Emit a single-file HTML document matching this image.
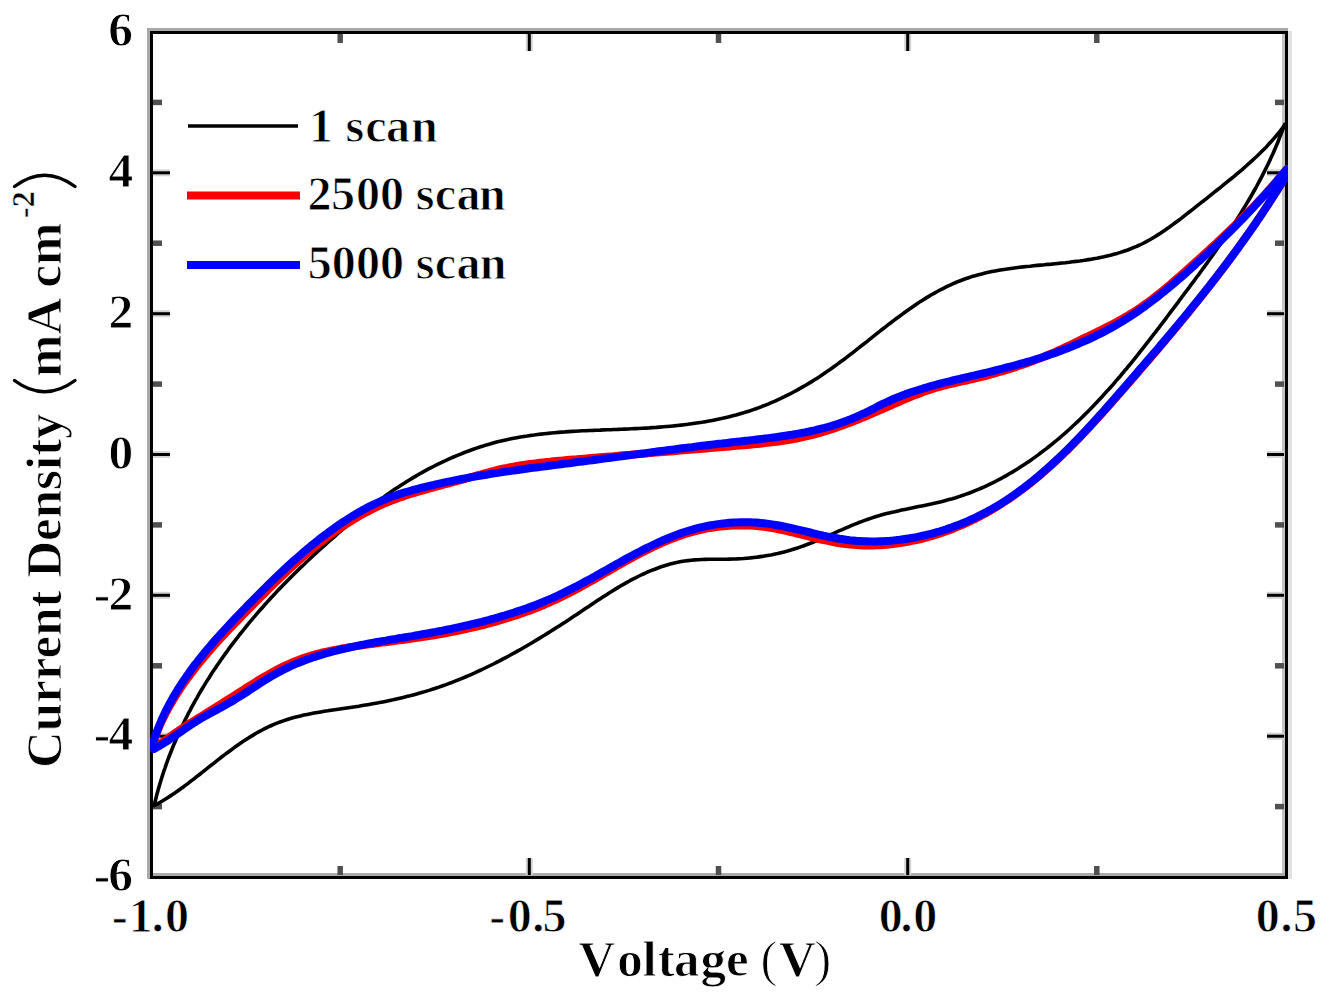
<!DOCTYPE html>
<html><head><meta charset="utf-8"><style>
html,body{margin:0;padding:0;background:#fff;}
body{width:1328px;height:999px;overflow:hidden;}
svg{display:block;}
text{font-family:"Liberation Serif",serif;font-weight:bold;fill:#000;stroke:#fff;stroke-width:0.9px;}
</style></head><body>
<svg width="1328" height="999" viewBox="0 0 1328 999">
<rect width="1328" height="999" fill="#fff"/>
<rect x="147" y="28" width="3" height="851" fill="#a8a8a8"/>
<rect x="147" y="28" width="1141" height="3" fill="#a8a8a8"/>
<rect x="1282" y="34" width="3" height="842" fill="#c4c4c4"/>
<rect x="153" y="873" width="1132" height="3" fill="#acacac"/>
<rect x="1288" y="31" width="4" height="848" fill="#e2e2e2"/>
<rect x="151.5" y="32.5" width="1135" height="845" fill="none" stroke="#000" stroke-width="3"/>
<g>
<line x1="153.0" y1="806.6" x2="162.0" y2="806.6" stroke="#505050" stroke-width="5.5"/>
<line x1="1284.0" y1="806.6" x2="1275.0" y2="806.6" stroke="#505050" stroke-width="5.5"/>
<line x1="153.0" y1="736.2" x2="170.0" y2="736.2" stroke="#d4d4d4" stroke-width="7"/><line x1="153.0" y1="736.2" x2="170.0" y2="736.2" stroke="#000" stroke-width="3"/>
<line x1="1284.0" y1="736.2" x2="1267.0" y2="736.2" stroke="#d4d4d4" stroke-width="7"/><line x1="1284.0" y1="736.2" x2="1267.0" y2="736.2" stroke="#000" stroke-width="3"/>
<line x1="153.0" y1="665.8" x2="162.0" y2="665.8" stroke="#505050" stroke-width="5.5"/>
<line x1="1284.0" y1="665.8" x2="1275.0" y2="665.8" stroke="#505050" stroke-width="5.5"/>
<line x1="153.0" y1="595.3" x2="170.0" y2="595.3" stroke="#d4d4d4" stroke-width="7"/><line x1="153.0" y1="595.3" x2="170.0" y2="595.3" stroke="#000" stroke-width="3"/>
<line x1="1284.0" y1="595.3" x2="1267.0" y2="595.3" stroke="#d4d4d4" stroke-width="7"/><line x1="1284.0" y1="595.3" x2="1267.0" y2="595.3" stroke="#000" stroke-width="3"/>
<line x1="153.0" y1="524.9" x2="162.0" y2="524.9" stroke="#505050" stroke-width="5.5"/>
<line x1="1284.0" y1="524.9" x2="1275.0" y2="524.9" stroke="#505050" stroke-width="5.5"/>
<line x1="153.0" y1="454.5" x2="170.0" y2="454.5" stroke="#d4d4d4" stroke-width="7"/><line x1="153.0" y1="454.5" x2="170.0" y2="454.5" stroke="#000" stroke-width="3"/>
<line x1="1284.0" y1="454.5" x2="1267.0" y2="454.5" stroke="#d4d4d4" stroke-width="7"/><line x1="1284.0" y1="454.5" x2="1267.0" y2="454.5" stroke="#000" stroke-width="3"/>
<line x1="153.0" y1="384.1" x2="162.0" y2="384.1" stroke="#505050" stroke-width="5.5"/>
<line x1="1284.0" y1="384.1" x2="1275.0" y2="384.1" stroke="#505050" stroke-width="5.5"/>
<line x1="153.0" y1="313.7" x2="170.0" y2="313.7" stroke="#d4d4d4" stroke-width="7"/><line x1="153.0" y1="313.7" x2="170.0" y2="313.7" stroke="#000" stroke-width="3"/>
<line x1="1284.0" y1="313.7" x2="1267.0" y2="313.7" stroke="#d4d4d4" stroke-width="7"/><line x1="1284.0" y1="313.7" x2="1267.0" y2="313.7" stroke="#000" stroke-width="3"/>
<line x1="153.0" y1="243.2" x2="162.0" y2="243.2" stroke="#505050" stroke-width="5.5"/>
<line x1="1284.0" y1="243.2" x2="1275.0" y2="243.2" stroke="#505050" stroke-width="5.5"/>
<line x1="153.0" y1="172.8" x2="170.0" y2="172.8" stroke="#d4d4d4" stroke-width="7"/><line x1="153.0" y1="172.8" x2="170.0" y2="172.8" stroke="#000" stroke-width="3"/>
<line x1="1284.0" y1="172.8" x2="1267.0" y2="172.8" stroke="#d4d4d4" stroke-width="7"/><line x1="1284.0" y1="172.8" x2="1267.0" y2="172.8" stroke="#000" stroke-width="3"/>
<line x1="153.0" y1="102.4" x2="162.0" y2="102.4" stroke="#505050" stroke-width="5.5"/>
<line x1="1284.0" y1="102.4" x2="1275.0" y2="102.4" stroke="#505050" stroke-width="5.5"/>
<line x1="340.2" y1="875.0" x2="340.2" y2="866.0" stroke="#505050" stroke-width="5.5"/>
<line x1="340.2" y1="34.0" x2="340.2" y2="43.0" stroke="#505050" stroke-width="5.5"/>
<line x1="529.3" y1="875.0" x2="529.3" y2="858.0" stroke="#d4d4d4" stroke-width="7"/><line x1="529.3" y1="875.0" x2="529.3" y2="858.0" stroke="#000" stroke-width="3"/>
<line x1="529.3" y1="34.0" x2="529.3" y2="51.0" stroke="#d4d4d4" stroke-width="7"/><line x1="529.3" y1="34.0" x2="529.3" y2="51.0" stroke="#000" stroke-width="3"/>
<line x1="718.5" y1="875.0" x2="718.5" y2="866.0" stroke="#505050" stroke-width="5.5"/>
<line x1="718.5" y1="34.0" x2="718.5" y2="43.0" stroke="#505050" stroke-width="5.5"/>
<line x1="907.7" y1="875.0" x2="907.7" y2="858.0" stroke="#d4d4d4" stroke-width="7"/><line x1="907.7" y1="875.0" x2="907.7" y2="858.0" stroke="#000" stroke-width="3"/>
<line x1="907.7" y1="34.0" x2="907.7" y2="51.0" stroke="#d4d4d4" stroke-width="7"/><line x1="907.7" y1="34.0" x2="907.7" y2="51.0" stroke="#000" stroke-width="3"/>
<line x1="1096.8" y1="875.0" x2="1096.8" y2="866.0" stroke="#505050" stroke-width="5.5"/>
<line x1="1096.8" y1="34.0" x2="1096.8" y2="43.0" stroke="#505050" stroke-width="5.5"/>
</g>
<defs><clipPath id="pc"><rect x="150" y="31" width="1138" height="848"/></clipPath></defs>
<g fill="none" stroke-linejoin="round" stroke-linecap="round" clip-path="url(#pc)">
<path d="M154.2,805.4 L155.0,802.0 L155.9,798.5 L156.7,795.1 L157.7,791.6 L158.6,788.2 L159.6,784.8 L160.6,781.4 L161.7,778.0 L162.7,774.7 L163.8,771.3 L165.0,768.0 L166.1,764.6 L167.3,761.3 L168.5,758.0 L169.8,754.8 L171.1,751.5 L172.4,748.2 L173.7,745.0 L175.1,741.8 L176.4,738.6 L177.9,735.4 L179.3,732.2 L180.7,729.0 L182.2,725.9 L183.8,722.7 L185.3,719.6 L186.9,716.5 L188.4,713.4 L190.1,710.3 L191.7,707.2 L193.4,704.1 L195.0,701.1 L196.8,698.1 L198.5,695.0 L200.2,692.0 L202.0,689.0 L203.8,686.1 L205.6,683.1 L207.5,680.1 L209.4,677.2 L211.2,674.2 L213.1,671.3 L215.1,668.4 L217.0,665.5 L219.0,662.7 L221.0,659.8 L223.0,656.9 L225.0,654.1 L227.1,651.3 L229.1,648.4 L231.2,645.6 L233.3,642.8 L235.4,640.1 L237.6,637.3 L239.7,634.5 L241.9,631.8 L244.1,629.1 L246.3,626.3 L248.5,623.6 L250.8,620.9 L253.0,618.3 L255.3,615.6 L257.6,612.9 L259.9,610.3 L262.2,607.7 L264.6,605.0 L266.9,602.4 L269.3,599.8 L271.6,597.2 L274.0,594.7 L276.4,592.1 L278.8,589.6 L281.3,587.0 L283.7,584.5 L286.2,582.0 L288.6,579.5 L291.1,577.0 L293.6,574.5 L296.1,572.0 L298.6,569.6 L301.1,567.1 L303.7,564.7 L306.2,562.2 L308.8,559.8 L311.3,557.4 L313.9,555.0 L316.5,552.7 L319.1,550.3 L321.6,547.9 L324.3,545.6 L326.9,543.2 L329.5,540.9 L332.1,538.6 L334.8,536.3 L337.4,534.0 L340.0,531.7 L342.7,529.4 L345.4,527.2 L348.0,524.9 L350.7,522.7 L353.4,520.5 L356.1,518.3 L358.8,516.1 L361.5,513.9 L364.2,511.7 L367.0,509.6 L369.7,507.4 L372.5,505.3 L375.3,503.2 L378.1,501.2 L380.9,499.1 L383.7,497.1 L386.5,495.0 L389.4,493.0 L392.2,491.1 L395.1,489.1 L398.0,487.2 L400.9,485.3 L403.9,483.4 L406.8,481.5 L409.8,479.7 L412.8,477.9 L415.8,476.1 L418.9,474.3 L421.9,472.6 L425.0,470.9 L428.1,469.2 L431.2,467.6 L434.3,466.0 L437.5,464.4 L440.7,462.9 L443.9,461.3 L447.1,459.9 L450.3,458.4 L453.5,457.0 L456.8,455.6 L460.0,454.3 L463.3,453.0 L466.6,451.7 L469.9,450.5 L473.2,449.3 L476.5,448.1 L479.8,447.0 L483.2,446.0 L486.5,444.9 L489.9,444.0 L493.2,443.0 L496.6,442.1 L500.0,441.3 L503.4,440.5 L506.8,439.7 L510.1,439.0 L513.5,438.3 L516.9,437.7 L520.4,437.1 L523.8,436.5 L527.2,436.0 L530.6,435.4 L534.0,435.0 L537.5,434.5 L540.9,434.1 L544.4,433.7 L547.8,433.4 L551.3,433.0 L554.7,432.7 L558.2,432.4 L561.6,432.1 L565.1,431.9 L568.6,431.6 L572.1,431.4 L575.5,431.2 L579.0,431.0 L582.5,430.8 L586.0,430.7 L589.5,430.5 L593.0,430.4 L596.5,430.2 L600.0,430.1 L603.5,429.9 L607.0,429.8 L610.5,429.7 L614.0,429.5 L617.5,429.4 L621.0,429.2 L624.5,429.1 L628.1,429.0 L631.6,428.8 L635.1,428.6 L638.6,428.5 L642.1,428.3 L645.7,428.1 L649.2,427.9 L652.7,427.6 L656.3,427.4 L659.8,427.1 L663.3,426.8 L666.8,426.5 L670.4,426.2 L673.9,425.9 L677.4,425.5 L680.9,425.1 L684.4,424.7 L687.9,424.3 L691.4,423.8 L694.9,423.3 L698.4,422.8 L701.9,422.3 L705.4,421.7 L708.8,421.1 L712.3,420.4 L715.7,419.7 L719.1,419.0 L722.6,418.3 L726.0,417.5 L729.3,416.7 L732.7,415.8 L736.1,415.0 L739.4,414.0 L742.7,413.1 L746.1,412.0 L749.4,411.0 L752.6,409.9 L755.9,408.8 L759.1,407.6 L762.3,406.3 L765.5,405.1 L768.7,403.8 L771.9,402.4 L775.1,401.1 L778.2,399.6 L781.3,398.2 L784.4,396.7 L787.5,395.1 L790.6,393.6 L793.6,392.0 L796.7,390.3 L799.7,388.6 L802.7,386.9 L805.7,385.2 L808.7,383.4 L811.7,381.6 L814.6,379.8 L817.6,377.9 L820.5,376.0 L823.4,374.0 L826.3,372.1 L829.2,370.1 L832.1,368.0 L834.9,366.0 L837.8,363.9 L840.6,361.8 L843.5,359.7 L846.3,357.6 L849.1,355.4 L851.9,353.3 L854.7,351.1 L857.5,348.9 L860.3,346.7 L863.1,344.5 L865.9,342.3 L868.7,340.1 L871.5,337.9 L874.3,335.6 L877.1,333.4 L879.9,331.2 L882.7,329.0 L885.5,326.9 L888.3,324.7 L891.1,322.5 L893.9,320.4 L896.7,318.3 L899.6,316.2 L902.4,314.1 L905.2,312.0 L908.1,310.0 L911.0,308.0 L913.8,306.0 L916.7,304.0 L919.6,302.1 L922.6,300.2 L925.5,298.4 L928.4,296.6 L931.4,294.8 L934.4,293.1 L937.4,291.5 L940.4,289.8 L943.5,288.3 L946.5,286.7 L949.6,285.3 L952.7,283.9 L955.8,282.5 L959.0,281.2 L962.2,280.0 L965.4,278.8 L968.6,277.7 L971.8,276.6 L975.1,275.7 L978.4,274.7 L981.8,273.9 L985.1,273.1 L988.5,272.3 L991.9,271.6 L995.3,270.9 L998.7,270.3 L1002.1,269.7 L1005.6,269.2 L1009.1,268.7 L1012.6,268.2 L1016.1,267.7 L1019.6,267.3 L1023.1,266.9 L1026.6,266.5 L1030.1,266.2 L1033.7,265.8 L1037.2,265.4 L1040.7,265.1 L1044.3,264.8 L1047.8,264.4 L1051.4,264.1 L1054.9,263.7 L1058.5,263.4 L1062.0,263.0 L1065.5,262.7 L1069.1,262.3 L1072.6,261.8 L1076.1,261.4 L1079.6,261.0 L1083.1,260.5 L1086.6,259.9 L1090.1,259.4 L1093.5,258.8 L1096.9,258.2 L1100.4,257.5 L1103.8,256.8 L1107.1,256.0 L1110.5,255.2 L1113.9,254.3 L1117.2,253.4 L1120.5,252.4 L1123.7,251.3 L1127.0,250.2 L1130.2,249.0 L1133.4,247.7 L1136.6,246.4 L1139.7,245.0 L1142.8,243.5 L1145.9,241.9 L1148.9,240.2 L1151.9,238.5 L1154.9,236.7 L1157.8,234.9 L1160.8,233.0 L1163.7,231.0 L1166.6,229.0 L1169.5,227.0 L1172.4,224.9 L1175.2,222.8 L1178.1,220.7 L1180.9,218.6 L1183.7,216.4 L1186.5,214.2 L1189.3,212.0 L1192.1,209.8 L1194.9,207.6 L1197.7,205.4 L1200.5,203.2 L1203.3,201.0 L1206.1,198.8 L1208.8,196.6 L1211.6,194.4 L1214.4,192.2 L1217.1,190.0 L1219.9,187.8 L1222.6,185.6 L1225.3,183.4 L1228.1,181.2 L1230.8,179.0 L1233.5,176.8 L1236.1,174.6 L1238.8,172.3 L1241.5,170.1 L1244.1,167.8 L1246.7,165.5 L1249.3,163.2 L1251.9,160.9 L1254.4,158.5 L1256.9,156.2 L1259.4,153.8 L1261.9,151.3 L1264.3,148.9 L1266.8,146.4 L1269.1,143.8 L1271.5,141.3 L1273.8,138.6 L1276.1,136.0 L1278.3,133.3 L1280.5,130.5 L1282.7,127.7 L1284.8,124.9" stroke="#000" stroke-width="3.6"/>
<path d="M1284.7,124.4 L1283.4,127.8 L1282.2,131.1 L1280.9,134.4 L1279.6,137.7 L1278.3,141.0 L1277.0,144.3 L1275.6,147.5 L1274.2,150.7 L1272.8,153.9 L1271.3,157.1 L1269.9,160.2 L1268.4,163.4 L1266.9,166.5 L1265.3,169.6 L1263.8,172.7 L1262.2,175.8 L1260.6,178.9 L1259.0,181.9 L1257.3,185.0 L1255.7,188.0 L1254.0,191.0 L1252.3,194.0 L1250.6,197.0 L1248.8,200.0 L1247.1,202.9 L1245.3,205.9 L1243.5,208.8 L1241.7,211.8 L1239.9,214.7 L1238.1,217.6 L1236.2,220.5 L1234.3,223.4 L1232.5,226.3 L1230.6,229.1 L1228.7,232.0 L1226.8,234.9 L1224.8,237.7 L1222.9,240.6 L1220.9,243.4 L1219.0,246.2 L1217.0,249.0 L1215.0,251.9 L1213.0,254.7 L1211.0,257.5 L1209.0,260.3 L1207.0,263.1 L1205.0,265.9 L1202.9,268.7 L1200.9,271.5 L1198.9,274.3 L1196.8,277.0 L1194.8,279.8 L1192.7,282.6 L1190.6,285.4 L1188.6,288.2 L1186.5,290.9 L1184.4,293.7 L1182.3,296.5 L1180.2,299.3 L1178.2,302.1 L1176.1,304.9 L1174.0,307.6 L1171.9,310.4 L1169.8,313.2 L1167.7,316.0 L1165.6,318.8 L1163.5,321.6 L1161.4,324.3 L1159.3,327.1 L1157.2,329.9 L1155.1,332.7 L1152.9,335.4 L1150.8,338.2 L1148.7,340.9 L1146.5,343.7 L1144.4,346.4 L1142.2,349.2 L1140.0,351.9 L1137.9,354.7 L1135.7,357.4 L1133.5,360.1 L1131.3,362.8 L1129.1,365.5 L1126.9,368.2 L1124.6,370.8 L1122.4,373.5 L1120.2,376.2 L1117.9,378.8 L1115.6,381.4 L1113.4,384.1 L1111.1,386.7 L1108.8,389.3 L1106.4,391.8 L1104.1,394.4 L1101.8,397.0 L1099.4,399.5 L1097.1,402.0 L1094.7,404.5 L1092.3,407.0 L1089.9,409.5 L1087.5,412.0 L1085.0,414.4 L1082.6,416.8 L1080.1,419.2 L1077.6,421.6 L1075.1,424.0 L1072.6,426.3 L1070.0,428.7 L1067.5,431.0 L1064.9,433.3 L1062.3,435.5 L1059.7,437.8 L1057.1,440.0 L1054.4,442.2 L1051.8,444.4 L1049.1,446.5 L1046.4,448.6 L1043.7,450.7 L1040.9,452.8 L1038.2,454.9 L1035.4,456.9 L1032.6,458.9 L1029.7,460.9 L1026.9,462.8 L1024.0,464.7 L1021.1,466.6 L1018.2,468.5 L1015.3,470.3 L1012.3,472.1 L1009.3,473.8 L1006.3,475.6 L1003.3,477.2 L1000.3,478.9 L997.2,480.5 L994.1,482.1 L991.0,483.6 L987.9,485.1 L984.8,486.6 L981.6,488.0 L978.4,489.4 L975.2,490.7 L972.0,492.0 L968.8,493.2 L965.5,494.4 L962.3,495.5 L959.0,496.6 L955.7,497.7 L952.4,498.7 L949.0,499.6 L945.7,500.5 L942.3,501.4 L939.0,502.2 L935.6,503.0 L932.2,503.8 L928.8,504.5 L925.4,505.2 L922.0,505.9 L918.5,506.6 L915.1,507.3 L911.7,508.0 L908.3,508.7 L904.9,509.4 L901.5,510.1 L898.1,510.9 L894.7,511.7 L891.3,512.4 L887.9,513.3 L884.6,514.1 L881.2,515.1 L877.9,516.0 L874.6,517.0 L871.3,518.1 L868.0,519.2 L864.7,520.4 L861.5,521.6 L858.2,522.8 L855.0,524.1 L851.8,525.4 L848.6,526.8 L845.4,528.2 L842.2,529.6 L839.0,530.9 L835.8,532.3 L832.6,533.8 L829.5,535.2 L826.3,536.6 L823.1,537.9 L819.9,539.3 L816.7,540.6 L813.5,542.0 L810.3,543.3 L807.1,544.5 L803.9,545.7 L800.6,546.9 L797.4,548.0 L794.1,549.0 L790.8,550.0 L787.6,551.0 L784.2,551.9 L780.9,552.7 L777.6,553.5 L774.2,554.2 L770.9,554.9 L767.5,555.5 L764.1,556.1 L760.7,556.6 L757.3,557.1 L753.9,557.5 L750.4,557.9 L747.0,558.2 L743.5,558.5 L740.1,558.7 L736.6,558.9 L733.1,559.0 L729.7,559.1 L726.2,559.2 L722.7,559.2 L719.2,559.2 L715.7,559.3 L712.2,559.3 L708.7,559.3 L705.2,559.4 L701.7,559.5 L698.3,559.7 L694.8,559.9 L691.4,560.2 L687.9,560.6 L684.5,561.0 L681.1,561.6 L677.8,562.3 L674.4,563.0 L671.1,563.8 L667.8,564.8 L664.5,565.8 L661.2,566.8 L658.0,568.0 L654.8,569.2 L651.6,570.4 L648.4,571.7 L645.3,573.1 L642.2,574.5 L639.1,576.0 L636.0,577.6 L632.9,579.1 L629.9,580.7 L626.9,582.4 L623.9,584.1 L620.9,585.8 L617.9,587.6 L615.0,589.4 L612.0,591.2 L609.1,593.0 L606.2,594.9 L603.2,596.8 L600.3,598.7 L597.4,600.6 L594.5,602.5 L591.6,604.4 L588.7,606.4 L585.8,608.3 L582.9,610.3 L580.0,612.2 L577.1,614.2 L574.2,616.1 L571.3,618.0 L568.4,620.0 L565.4,621.9 L562.5,623.8 L559.6,625.7 L556.6,627.6 L553.7,629.4 L550.7,631.3 L547.8,633.1 L544.8,635.0 L541.8,636.8 L538.9,638.6 L535.9,640.4 L532.9,642.2 L529.9,644.0 L526.9,645.7 L523.9,647.5 L520.9,649.2 L517.9,650.9 L514.8,652.6 L511.8,654.3 L508.8,656.0 L505.7,657.6 L502.7,659.2 L499.6,660.8 L496.5,662.4 L493.4,664.0 L490.3,665.5 L487.2,667.0 L484.1,668.5 L481.0,670.0 L477.9,671.4 L474.8,672.9 L471.6,674.3 L468.5,675.6 L465.3,677.0 L462.1,678.3 L458.9,679.6 L455.7,680.9 L452.5,682.2 L449.3,683.4 L446.1,684.6 L442.9,685.7 L439.6,686.9 L436.3,688.0 L433.1,689.0 L429.8,690.1 L426.5,691.1 L423.2,692.1 L419.9,693.0 L416.6,694.0 L413.2,694.9 L409.9,695.8 L406.5,696.6 L403.2,697.4 L399.8,698.2 L396.4,699.0 L393.1,699.8 L389.7,700.5 L386.3,701.2 L382.9,701.9 L379.4,702.6 L376.0,703.2 L372.6,703.8 L369.2,704.4 L365.7,705.0 L362.3,705.6 L358.8,706.2 L355.4,706.7 L351.9,707.2 L348.5,707.7 L345.0,708.2 L341.5,708.7 L338.1,709.2 L334.6,709.7 L331.1,710.2 L327.7,710.8 L324.3,711.3 L320.8,711.9 L317.4,712.5 L314.0,713.1 L310.6,713.7 L307.2,714.4 L303.8,715.1 L300.5,715.9 L297.1,716.7 L293.8,717.6 L290.5,718.5 L287.3,719.5 L284.0,720.6 L280.8,721.7 L277.6,722.9 L274.5,724.2 L271.4,725.5 L268.3,726.9 L265.2,728.4 L262.2,730.0 L259.1,731.6 L256.1,733.3 L253.2,735.1 L250.2,736.9 L247.3,738.7 L244.4,740.6 L241.5,742.5 L238.6,744.5 L235.7,746.5 L232.9,748.6 L230.1,750.7 L227.3,752.8 L224.4,754.9 L221.6,757.0 L218.9,759.2 L216.1,761.4 L213.3,763.6 L210.5,765.7 L207.8,767.9 L205.0,770.1 L202.2,772.3 L199.5,774.5 L196.7,776.7 L194.0,778.8 L191.2,780.9 L188.4,783.1 L185.7,785.1 L182.9,787.2 L180.1,789.2 L177.3,791.2 L174.5,793.2 L171.7,795.1 L168.8,796.9 L166.0,798.8 L163.1,800.5 L160.3,802.2 L157.4,803.9 L154.5,805.5" stroke="#000" stroke-width="3.6"/>
<path d="M151.8,746.8 L152.9,743.6 L154.0,740.4 L155.1,737.2 L156.3,734.1 L157.5,731.0 L158.8,727.9 L160.1,724.9 L161.5,721.9 L162.9,718.9 L164.4,715.9 L165.9,712.9 L167.5,710.0 L169.0,707.1 L170.7,704.2 L172.3,701.4 L174.0,698.5 L175.8,695.7 L177.6,692.9 L179.4,690.1 L181.2,687.4 L183.1,684.6 L185.0,681.9 L186.9,679.2 L188.9,676.5 L190.9,673.8 L192.9,671.2 L195.0,668.5 L197.0,665.9 L199.1,663.3 L201.2,660.7 L203.4,658.1 L205.5,655.6 L207.7,653.0 L209.9,650.5 L212.1,647.9 L214.4,645.4 L216.6,642.9 L218.9,640.4 L221.1,637.9 L223.4,635.5 L225.7,633.0 L228.0,630.6 L230.4,628.1 L232.7,625.7 L235.0,623.2 L237.4,620.8 L239.7,618.4 L242.1,616.0 L244.4,613.6 L246.8,611.2 L249.1,608.8 L251.5,606.4 L253.9,604.0 L256.2,601.6 L258.6,599.2 L260.9,596.8 L263.3,594.5 L265.7,592.1 L268.0,589.7 L270.4,587.4 L272.8,585.0 L275.2,582.7 L277.6,580.4 L280.0,578.1 L282.4,575.8 L284.8,573.5 L287.2,571.2 L289.7,568.9 L292.1,566.7 L294.6,564.5 L297.0,562.2 L299.5,560.0 L302.0,557.8 L304.5,555.7 L307.0,553.5 L309.6,551.4 L312.1,549.2 L314.7,547.1 L317.3,545.1 L319.9,543.0 L322.5,541.0 L325.2,538.9 L327.8,536.9 L330.5,534.9 L333.2,533.0 L335.9,531.1 L338.7,529.2 L341.5,527.3 L344.3,525.4 L347.1,523.6 L349.9,521.8 L352.8,520.0 L355.7,518.3 L358.6,516.6 L361.5,514.9 L364.5,513.3 L367.4,511.7 L370.4,510.1 L373.4,508.6 L376.4,507.2 L379.4,505.7 L382.5,504.4 L385.5,503.0 L388.6,501.8 L391.7,500.5 L394.8,499.4 L397.9,498.2 L401.0,497.1 L404.2,496.1 L407.3,495.0 L410.5,494.0 L413.7,493.1 L416.8,492.1 L420.0,491.2 L423.2,490.3 L426.4,489.4 L429.6,488.5 L432.8,487.6 L436.1,486.7 L439.3,485.9 L442.5,485.0 L445.7,484.1 L449.0,483.3 L452.2,482.4 L455.4,481.5 L458.7,480.7 L461.9,479.8 L465.1,478.9 L468.3,478.0 L471.5,477.0 L474.8,476.1 L478.0,475.2 L481.2,474.3 L484.4,473.4 L487.6,472.5 L490.8,471.6 L494.1,470.8 L497.3,470.0 L500.6,469.2 L503.8,468.5 L507.1,467.9 L510.4,467.2 L513.6,466.6 L516.9,466.0 L520.2,465.5 L523.5,465.0 L526.8,464.5 L530.1,464.0 L533.4,463.6 L536.7,463.2 L540.1,462.8 L543.4,462.4 L546.7,462.0 L550.0,461.7 L553.4,461.3 L556.7,461.0 L560.0,460.7 L563.4,460.4 L566.7,460.1 L570.0,459.8 L573.4,459.5 L576.7,459.3 L580.0,459.0 L583.4,458.7 L586.7,458.4 L590.0,458.1 L593.4,457.8 L596.7,457.6 L600.0,457.3 L603.3,457.0 L606.7,456.7 L610.0,456.4 L613.3,456.2 L616.7,455.9 L620.0,455.6 L623.3,455.3 L626.6,455.0 L630.0,454.8 L633.3,454.5 L636.6,454.2 L639.9,453.9 L643.3,453.7 L646.6,453.4 L649.9,453.1 L653.2,452.8 L656.6,452.6 L659.9,452.3 L663.2,452.0 L666.5,451.7 L669.9,451.4 L673.2,451.2 L676.5,450.9 L679.9,450.6 L683.2,450.3 L686.5,450.1 L689.8,449.8 L693.2,449.5 L696.5,449.2 L699.8,448.9 L703.2,448.7 L706.5,448.4 L709.9,448.1 L713.2,447.8 L716.5,447.5 L719.9,447.3 L723.2,447.0 L726.6,446.7 L729.9,446.4 L733.3,446.1 L736.6,445.8 L740.0,445.6 L743.3,445.3 L746.7,445.0 L750.0,444.7 L753.3,444.3 L756.7,444.0 L760.0,443.7 L763.4,443.3 L766.7,442.9 L770.0,442.5 L773.4,442.1 L776.7,441.7 L780.0,441.2 L783.3,440.7 L786.6,440.2 L789.9,439.7 L793.2,439.1 L796.5,438.5 L799.7,437.8 L803.0,437.1 L806.2,436.4 L809.5,435.6 L812.7,434.8 L815.9,434.0 L819.1,433.1 L822.3,432.2 L825.5,431.2 L828.7,430.2 L831.8,429.2 L835.0,428.1 L838.1,427.0 L841.2,425.9 L844.4,424.8 L847.5,423.6 L850.6,422.4 L853.7,421.2 L856.8,420.0 L859.9,418.7 L863.0,417.4 L866.1,416.2 L869.2,414.9 L872.2,413.6 L875.3,412.2 L878.4,410.9 L881.5,409.6 L884.5,408.2 L887.6,406.9 L890.7,405.5 L893.7,404.2 L896.8,402.9 L899.9,401.5 L902.9,400.2 L906.0,398.9 L909.1,397.6 L912.2,396.3 L915.3,395.1 L918.4,393.9 L921.5,392.7 L924.6,391.6 L927.8,390.5 L930.9,389.4 L934.1,388.4 L937.3,387.5 L940.5,386.6 L943.7,385.7 L946.9,384.9 L950.2,384.2 L953.5,383.4 L956.7,382.7 L960.0,381.9 L963.2,381.2 L966.5,380.5 L969.8,379.7 L973.0,379.0 L976.3,378.2 L979.5,377.4 L982.8,376.6 L986.0,375.8 L989.2,374.9 L992.4,374.0 L995.6,373.2 L998.8,372.2 L1002.0,371.3 L1005.2,370.4 L1008.4,369.4 L1011.6,368.4 L1014.8,367.4 L1017.9,366.3 L1021.1,365.3 L1024.2,364.2 L1027.4,363.1 L1030.5,361.9 L1033.6,360.8 L1036.7,359.6 L1039.8,358.4 L1042.9,357.1 L1046.0,355.8 L1049.1,354.5 L1052.1,353.2 L1055.2,351.9 L1058.3,350.5 L1061.3,349.1 L1064.3,347.7 L1067.4,346.2 L1070.4,344.8 L1073.4,343.4 L1076.5,341.9 L1079.5,340.4 L1082.5,338.9 L1085.5,337.4 L1088.5,336.0 L1091.5,334.5 L1094.6,333.0 L1097.6,331.5 L1100.6,330.0 L1103.6,328.6 L1106.6,327.1 L1109.6,325.5 L1112.6,324.0 L1115.5,322.5 L1118.5,320.9 L1121.4,319.3 L1124.3,317.6 L1127.2,316.0 L1130.0,314.2 L1132.8,312.5 L1135.6,310.7 L1138.4,308.8 L1141.1,306.9 L1143.8,305.0 L1146.5,303.1 L1149.2,301.1 L1151.9,299.1 L1154.5,297.1 L1157.2,295.0 L1159.8,293.0 L1162.4,290.9 L1164.9,288.8 L1167.5,286.6 L1170.1,284.5 L1172.6,282.3 L1175.1,280.1 L1177.7,277.9 L1180.2,275.7 L1182.7,273.5 L1185.2,271.3 L1187.7,269.0 L1190.2,266.8 L1192.7,264.6 L1195.2,262.3 L1197.7,260.1 L1200.2,257.8 L1202.6,255.6 L1205.1,253.3 L1207.6,251.1 L1210.1,248.8 L1212.5,246.5 L1215.0,244.3 L1217.4,242.0 L1219.9,239.7 L1222.3,237.4 L1224.7,235.1 L1227.2,232.8 L1229.6,230.5 L1232.0,228.1 L1234.4,225.8 L1236.8,223.5 L1239.2,221.1 L1241.5,218.8 L1243.9,216.4 L1246.2,214.0 L1248.6,211.7 L1250.9,209.3 L1253.2,206.9 L1255.5,204.4 L1257.8,202.0 L1260.1,199.6 L1262.4,197.1 L1264.7,194.7 L1266.9,192.2 L1269.1,189.7 L1271.4,187.2 L1273.6,184.7 L1275.8,182.2 L1277.9,179.7 L1280.1,177.1 L1282.2,174.6 L1284.4,172.0 L1286.5,169.4" stroke="#f00" stroke-width="8"/>
<path d="M1286.2,175.8 L1284.4,178.8 L1282.6,181.7 L1280.8,184.6 L1279.0,187.5 L1277.2,190.4 L1275.3,193.2 L1273.5,196.1 L1271.7,199.0 L1269.8,201.8 L1268.0,204.7 L1266.1,207.5 L1264.2,210.3 L1262.3,213.2 L1260.4,216.0 L1258.6,218.8 L1256.7,221.6 L1254.7,224.4 L1252.8,227.1 L1250.9,229.9 L1249.0,232.7 L1247.0,235.4 L1245.1,238.2 L1243.1,240.9 L1241.2,243.7 L1239.2,246.4 L1237.2,249.1 L1235.3,251.8 L1233.3,254.6 L1231.3,257.3 L1229.3,260.0 L1227.3,262.6 L1225.3,265.3 L1223.3,268.0 L1221.2,270.7 L1219.2,273.4 L1217.2,276.0 L1215.1,278.7 L1213.1,281.3 L1211.0,284.0 L1209.0,286.6 L1206.9,289.3 L1204.8,291.9 L1202.8,294.5 L1200.7,297.2 L1198.6,299.8 L1196.5,302.4 L1194.4,305.0 L1192.3,307.6 L1190.2,310.3 L1188.1,312.9 L1186.0,315.5 L1183.9,318.1 L1181.7,320.6 L1179.6,323.2 L1177.5,325.8 L1175.3,328.4 L1173.2,331.0 L1171.0,333.6 L1168.9,336.2 L1166.7,338.7 L1164.6,341.3 L1162.4,343.9 L1160.2,346.4 L1158.1,349.0 L1155.9,351.6 L1153.7,354.1 L1151.5,356.7 L1149.3,359.3 L1147.1,361.8 L1144.9,364.4 L1142.7,366.9 L1140.5,369.5 L1138.3,372.0 L1136.1,374.6 L1133.9,377.2 L1131.7,379.7 L1129.5,382.3 L1127.2,384.8 L1125.0,387.4 L1122.8,389.9 L1120.6,392.5 L1118.3,395.0 L1116.1,397.6 L1113.8,400.1 L1111.6,402.7 L1109.3,405.2 L1107.1,407.8 L1104.8,410.3 L1102.6,412.8 L1100.3,415.4 L1098.0,417.9 L1095.7,420.4 L1093.4,422.9 L1091.1,425.4 L1088.8,427.9 L1086.5,430.4 L1084.1,432.8 L1081.8,435.3 L1079.5,437.8 L1077.1,440.2 L1074.7,442.6 L1072.4,445.0 L1070.0,447.4 L1067.6,449.8 L1065.1,452.2 L1062.7,454.5 L1060.3,456.9 L1057.8,459.2 L1055.4,461.5 L1052.9,463.8 L1050.4,466.0 L1047.9,468.3 L1045.4,470.5 L1042.8,472.7 L1040.3,474.9 L1037.7,477.1 L1035.2,479.2 L1032.6,481.4 L1029.9,483.5 L1027.3,485.5 L1024.7,487.6 L1022.0,489.6 L1019.3,491.6 L1016.6,493.6 L1013.9,495.5 L1011.2,497.5 L1008.4,499.4 L1005.6,501.2 L1002.8,503.0 L1000.0,504.9 L997.2,506.6 L994.3,508.4 L991.4,510.1 L988.5,511.8 L985.6,513.4 L982.6,515.0 L979.6,516.6 L976.6,518.1 L973.6,519.7 L970.6,521.1 L967.5,522.6 L964.5,524.0 L961.4,525.3 L958.2,526.6 L955.1,527.9 L952.0,529.2 L948.8,530.4 L945.6,531.5 L942.4,532.6 L939.2,533.7 L936.0,534.8 L932.8,535.8 L929.5,536.7 L926.3,537.6 L923.0,538.5 L919.7,539.3 L916.4,540.0 L913.1,540.7 L909.8,541.4 L906.5,542.0 L903.2,542.6 L899.9,543.1 L896.6,543.6 L893.2,544.0 L889.9,544.4 L886.6,544.7 L883.2,544.9 L879.9,545.2 L876.5,545.3 L873.2,545.4 L869.8,545.4 L866.5,545.4 L863.2,545.4 L859.8,545.2 L856.5,545.0 L853.2,544.8 L849.8,544.5 L846.5,544.1 L843.2,543.7 L839.9,543.2 L836.6,542.7 L833.3,542.1 L830.0,541.4 L826.7,540.7 L823.4,540.0 L820.1,539.3 L816.8,538.5 L813.6,537.7 L810.3,536.9 L807.0,536.0 L803.7,535.2 L800.4,534.4 L797.1,533.6 L793.8,532.7 L790.5,532.0 L787.2,531.2 L783.9,530.4 L780.6,529.7 L777.3,529.1 L774.0,528.4 L770.6,527.8 L767.3,527.3 L763.9,526.9 L760.5,526.4 L757.1,526.1 L753.8,525.8 L750.4,525.6 L747.0,525.5 L743.5,525.4 L740.1,525.4 L736.7,525.4 L733.3,525.5 L729.9,525.7 L726.6,525.9 L723.2,526.2 L719.8,526.6 L716.4,527.0 L713.1,527.5 L709.8,528.0 L706.4,528.6 L703.1,529.3 L699.9,530.0 L696.6,530.8 L693.4,531.7 L690.2,532.6 L687.0,533.5 L683.8,534.5 L680.6,535.6 L677.5,536.7 L674.4,537.9 L671.3,539.1 L668.2,540.3 L665.1,541.6 L662.0,542.9 L659.0,544.3 L656.0,545.7 L652.9,547.1 L649.9,548.6 L646.9,550.1 L643.9,551.6 L640.9,553.1 L638.0,554.7 L635.0,556.3 L632.0,557.9 L629.1,559.5 L626.1,561.1 L623.2,562.8 L620.2,564.5 L617.3,566.1 L614.4,567.8 L611.4,569.5 L608.5,571.2 L605.6,572.9 L602.6,574.6 L599.7,576.3 L596.7,578.0 L593.8,579.7 L590.9,581.3 L587.9,583.0 L584.9,584.6 L582.0,586.3 L579.0,587.9 L576.0,589.5 L573.0,591.1 L570.0,592.6 L567.0,594.2 L564.0,595.7 L561.0,597.2 L558.0,598.6 L554.9,600.1 L551.8,601.4 L548.8,602.8 L545.7,604.1 L542.6,605.5 L539.5,606.7 L536.4,608.0 L533.2,609.2 L530.1,610.4 L526.9,611.6 L523.8,612.7 L520.6,613.8 L517.4,614.9 L514.2,616.0 L511.0,617.0 L507.8,618.0 L504.6,619.0 L501.4,620.0 L498.2,620.9 L494.9,621.8 L491.7,622.7 L488.4,623.6 L485.2,624.5 L481.9,625.3 L478.7,626.1 L475.4,626.9 L472.1,627.7 L468.8,628.4 L465.5,629.2 L462.2,629.9 L458.9,630.6 L455.6,631.3 L452.3,631.9 L449.0,632.6 L445.6,633.2 L442.3,633.8 L439.0,634.4 L435.7,635.0 L432.3,635.5 L429.0,636.1 L425.6,636.6 L422.3,637.1 L419.0,637.6 L415.6,638.1 L412.3,638.6 L408.9,639.1 L405.6,639.5 L402.2,640.0 L398.9,640.4 L395.5,640.9 L392.2,641.3 L388.8,641.7 L385.5,642.2 L382.1,642.6 L378.8,643.1 L375.4,643.5 L372.1,644.0 L368.8,644.4 L365.4,644.9 L362.1,645.4 L358.8,645.9 L355.4,646.4 L352.1,646.9 L348.8,647.4 L345.5,648.0 L342.2,648.5 L338.9,649.1 L335.6,649.8 L332.3,650.4 L329.0,651.1 L325.8,651.8 L322.5,652.5 L319.3,653.3 L316.0,654.2 L312.8,655.1 L309.7,656.0 L306.5,657.0 L303.3,658.1 L300.2,659.2 L297.1,660.4 L294.0,661.7 L290.9,663.0 L287.9,664.3 L284.9,665.7 L281.9,667.2 L278.9,668.7 L275.9,670.2 L272.9,671.8 L270.0,673.4 L267.1,675.1 L264.1,676.8 L261.2,678.5 L258.3,680.2 L255.5,682.0 L252.6,683.8 L249.7,685.6 L246.8,687.4 L244.0,689.3 L241.1,691.1 L238.3,692.9 L235.4,694.8 L232.6,696.6 L229.7,698.4 L226.9,700.2 L224.0,702.0 L221.1,703.8 L218.3,705.6 L215.4,707.4 L212.5,709.2 L209.7,710.9 L206.8,712.7 L204.0,714.5 L201.1,716.3 L198.3,718.0 L195.4,719.8 L192.6,721.6 L189.7,723.4 L186.9,725.2 L184.1,727.0 L181.3,728.9 L178.5,730.7 L175.7,732.6 L173.0,734.5 L170.2,736.5 L167.5,738.4 L164.7,740.4 L162.0,742.4 L159.4,744.5 L156.7,746.6 L154.0,748.7" stroke="#f00" stroke-width="8"/>
<path d="M152.0,746.7 L152.9,743.5 L153.9,740.2 L155.0,737.1 L156.1,733.9 L157.2,730.7 L158.4,727.6 L159.7,724.5 L161.0,721.5 L162.3,718.4 L163.7,715.4 L165.1,712.4 L166.6,709.4 L168.1,706.5 L169.7,703.5 L171.3,700.6 L172.9,697.7 L174.6,694.9 L176.3,692.0 L178.0,689.2 L179.8,686.4 L181.6,683.6 L183.5,680.8 L185.3,678.1 L187.2,675.3 L189.2,672.6 L191.1,669.9 L193.1,667.2 L195.1,664.5 L197.2,661.9 L199.2,659.3 L201.3,656.6 L203.4,654.0 L205.6,651.4 L207.7,648.8 L209.9,646.3 L212.1,643.7 L214.3,641.2 L216.5,638.6 L218.8,636.1 L221.0,633.6 L223.3,631.1 L225.6,628.6 L227.9,626.2 L230.2,623.7 L232.5,621.2 L234.8,618.8 L237.2,616.3 L239.5,613.9 L241.8,611.5 L244.2,609.1 L246.5,606.6 L248.9,604.2 L251.3,601.8 L253.6,599.4 L256.0,597.1 L258.3,594.7 L260.7,592.3 L263.1,589.9 L265.5,587.6 L267.8,585.2 L270.2,582.9 L272.6,580.5 L275.0,578.2 L277.4,575.9 L279.8,573.6 L282.2,571.3 L284.7,569.0 L287.1,566.8 L289.6,564.5 L292.0,562.3 L294.5,560.1 L297.0,557.9 L299.5,555.7 L302.0,553.5 L304.5,551.3 L307.1,549.2 L309.6,547.1 L312.2,544.9 L314.8,542.9 L317.4,540.8 L320.0,538.7 L322.6,536.7 L325.3,534.7 L328.0,532.7 L330.6,530.7 L333.4,528.7 L336.1,526.8 L338.9,524.9 L341.6,523.0 L344.5,521.2 L347.3,519.3 L350.1,517.5 L353.0,515.7 L355.9,514.0 L358.8,512.3 L361.7,510.6 L364.7,509.0 L367.7,507.4 L370.7,505.9 L373.7,504.4 L376.7,503.0 L379.8,501.6 L382.8,500.2 L385.9,499.0 L389.0,497.7 L392.1,496.6 L395.3,495.5 L398.4,494.4 L401.6,493.4 L404.8,492.4 L408.0,491.5 L411.2,490.6 L414.4,489.7 L417.6,488.8 L420.8,488.0 L424.1,487.2 L427.3,486.4 L430.5,485.6 L433.8,484.9 L437.0,484.1 L440.3,483.4 L443.5,482.7 L446.8,482.0 L450.1,481.3 L453.3,480.6 L456.6,480.0 L459.9,479.3 L463.2,478.7 L466.4,478.1 L469.7,477.5 L473.0,476.9 L476.3,476.3 L479.6,475.8 L482.9,475.2 L486.2,474.7 L489.5,474.1 L492.8,473.6 L496.1,473.1 L499.4,472.6 L502.7,472.1 L506.1,471.6 L509.4,471.1 L512.7,470.6 L516.0,470.2 L519.3,469.7 L522.6,469.2 L526.0,468.8 L529.3,468.3 L532.6,467.9 L535.9,467.5 L539.3,467.0 L542.6,466.6 L545.9,466.2 L549.2,465.7 L552.6,465.3 L555.9,464.9 L559.2,464.5 L562.6,464.0 L565.9,463.6 L569.2,463.2 L572.5,462.7 L575.9,462.3 L579.2,461.9 L582.5,461.5 L585.8,461.0 L589.1,460.6 L592.5,460.2 L595.8,459.7 L599.1,459.3 L602.4,458.8 L605.7,458.4 L609.1,458.0 L612.4,457.5 L615.7,457.1 L619.0,456.6 L622.3,456.2 L625.6,455.7 L629.0,455.3 L632.3,454.9 L635.6,454.4 L638.9,454.0 L642.2,453.5 L645.5,453.1 L648.9,452.6 L652.2,452.2 L655.5,451.8 L658.8,451.3 L662.1,450.9 L665.4,450.5 L668.8,450.0 L672.1,449.6 L675.4,449.2 L678.7,448.7 L682.0,448.3 L685.4,447.9 L688.7,447.5 L692.0,447.1 L695.3,446.6 L698.6,446.2 L702.0,445.8 L705.3,445.4 L708.6,445.0 L711.9,444.6 L715.3,444.2 L718.6,443.8 L721.9,443.5 L725.3,443.1 L728.6,442.7 L731.9,442.3 L735.3,441.9 L738.6,441.6 L741.9,441.2 L745.3,440.8 L748.6,440.5 L751.9,440.1 L755.3,439.7 L758.6,439.3 L761.9,438.9 L765.3,438.5 L768.6,438.1 L771.9,437.7 L775.2,437.3 L778.6,436.8 L781.9,436.3 L785.2,435.8 L788.5,435.3 L791.8,434.8 L795.1,434.2 L798.4,433.6 L801.7,433.0 L805.0,432.4 L808.2,431.7 L811.5,431.0 L814.7,430.3 L818.0,429.5 L821.2,428.7 L824.5,427.9 L827.7,427.0 L830.9,426.1 L834.1,425.1 L837.3,424.1 L840.4,423.0 L843.6,421.9 L846.7,420.8 L849.8,419.6 L852.9,418.3 L856.0,417.0 L859.1,415.6 L862.1,414.2 L865.2,412.8 L868.2,411.3 L871.2,409.8 L874.2,408.3 L877.2,406.7 L880.2,405.2 L883.2,403.7 L886.3,402.3 L889.3,400.9 L892.4,399.5 L895.4,398.2 L898.5,396.9 L901.6,395.7 L904.7,394.5 L907.9,393.4 L911.0,392.3 L914.2,391.2 L917.4,390.2 L920.6,389.2 L923.8,388.2 L927.0,387.3 L930.2,386.3 L933.4,385.5 L936.6,384.6 L939.9,383.7 L943.1,382.9 L946.3,382.1 L949.6,381.3 L952.8,380.5 L956.1,379.7 L959.3,379.0 L962.6,378.2 L965.8,377.4 L969.1,376.7 L972.3,375.9 L975.6,375.2 L978.8,374.4 L982.1,373.6 L985.3,372.8 L988.6,372.1 L991.8,371.3 L995.0,370.5 L998.3,369.7 L1001.5,368.9 L1004.7,368.0 L1007.9,367.2 L1011.2,366.4 L1014.4,365.5 L1017.6,364.6 L1020.8,363.7 L1024.0,362.8 L1027.2,361.9 L1030.4,361.0 L1033.6,360.0 L1036.8,359.0 L1040.0,358.0 L1043.2,357.0 L1046.4,355.9 L1049.5,354.8 L1052.7,353.7 L1055.9,352.6 L1059.1,351.5 L1062.2,350.3 L1065.4,349.1 L1068.5,347.9 L1071.6,346.6 L1074.7,345.3 L1077.9,344.0 L1080.9,342.7 L1084.0,341.3 L1087.1,340.0 L1090.2,338.6 L1093.2,337.1 L1096.2,335.6 L1099.3,334.2 L1102.3,332.6 L1105.2,331.1 L1108.2,329.5 L1111.2,327.9 L1114.1,326.3 L1117.0,324.6 L1119.9,322.9 L1122.8,321.2 L1125.6,319.4 L1128.4,317.7 L1131.2,315.8 L1134.0,314.0 L1136.8,312.1 L1139.5,310.2 L1142.2,308.3 L1144.9,306.4 L1147.6,304.4 L1150.3,302.4 L1152.9,300.4 L1155.6,298.4 L1158.2,296.3 L1160.8,294.2 L1163.4,292.2 L1166.0,290.0 L1168.6,287.9 L1171.1,285.8 L1173.7,283.6 L1176.2,281.5 L1178.7,279.3 L1181.3,277.1 L1183.8,274.9 L1186.3,272.7 L1188.8,270.4 L1191.3,268.2 L1193.8,266.0 L1196.2,263.7 L1198.7,261.4 L1201.2,259.2 L1203.6,256.9 L1206.1,254.6 L1208.5,252.3 L1211.0,250.0 L1213.4,247.7 L1215.9,245.4 L1218.3,243.1 L1220.7,240.7 L1223.1,238.4 L1225.5,236.0 L1227.9,233.7 L1230.3,231.3 L1232.6,228.9 L1235.0,226.6 L1237.4,224.2 L1239.7,221.8 L1242.0,219.4 L1244.4,216.9 L1246.7,214.5 L1249.0,212.1 L1251.3,209.6 L1253.6,207.2 L1255.8,204.7 L1258.1,202.3 L1260.4,199.8 L1262.6,197.3 L1264.8,194.8 L1267.1,192.3 L1269.3,189.8 L1271.5,187.3 L1273.7,184.8 L1275.8,182.3 L1278.0,179.7 L1280.1,177.2 L1282.3,174.6 L1284.4,172.1 L1286.5,169.5" stroke="#00f" stroke-width="8"/>
<path d="M1286.1,175.7 L1284.4,178.6 L1282.6,181.6 L1280.8,184.5 L1279.0,187.4 L1277.2,190.3 L1275.3,193.2 L1273.5,196.1 L1271.7,199.0 L1269.8,201.8 L1268.0,204.7 L1266.1,207.5 L1264.2,210.4 L1262.4,213.2 L1260.5,216.0 L1258.6,218.8 L1256.7,221.6 L1254.8,224.4 L1252.9,227.2 L1250.9,229.9 L1249.0,232.7 L1247.1,235.5 L1245.1,238.2 L1243.2,240.9 L1241.2,243.7 L1239.2,246.4 L1237.3,249.1 L1235.3,251.8 L1233.3,254.5 L1231.3,257.2 L1229.3,259.9 L1227.3,262.6 L1225.3,265.2 L1223.3,267.9 L1221.3,270.6 L1219.2,273.2 L1217.2,275.9 L1215.2,278.5 L1213.1,281.1 L1211.1,283.8 L1209.0,286.4 L1206.9,289.0 L1204.9,291.6 L1202.8,294.2 L1200.7,296.8 L1198.6,299.4 L1196.5,302.0 L1194.4,304.6 L1192.3,307.2 L1190.2,309.8 L1188.1,312.4 L1186.0,315.0 L1183.9,317.6 L1181.7,320.1 L1179.6,322.7 L1177.5,325.3 L1175.3,327.8 L1173.2,330.4 L1171.0,333.0 L1168.9,335.5 L1166.7,338.1 L1164.6,340.6 L1162.4,343.2 L1160.2,345.7 L1158.1,348.3 L1155.9,350.8 L1153.7,353.4 L1151.5,355.9 L1149.3,358.5 L1147.1,361.0 L1144.9,363.6 L1142.7,366.1 L1140.5,368.7 L1138.3,371.2 L1136.1,373.8 L1133.9,376.3 L1131.7,378.9 L1129.5,381.4 L1127.3,384.0 L1125.0,386.6 L1122.8,389.1 L1120.6,391.7 L1118.4,394.2 L1116.1,396.8 L1113.9,399.3 L1111.6,401.9 L1109.4,404.5 L1107.1,407.0 L1104.9,409.6 L1102.6,412.1 L1100.3,414.6 L1098.1,417.2 L1095.8,419.7 L1093.5,422.2 L1091.2,424.7 L1088.9,427.2 L1086.6,429.7 L1084.2,432.2 L1081.9,434.7 L1079.6,437.2 L1077.2,439.6 L1074.8,442.0 L1072.5,444.5 L1070.1,446.9 L1067.7,449.3 L1065.3,451.6 L1062.9,454.0 L1060.4,456.4 L1058.0,458.7 L1055.5,461.0 L1053.0,463.3 L1050.6,465.6 L1048.1,467.8 L1045.5,470.0 L1043.0,472.3 L1040.5,474.4 L1037.9,476.6 L1035.3,478.7 L1032.7,480.9 L1030.1,482.9 L1027.5,485.0 L1024.8,487.0 L1022.2,489.1 L1019.5,491.0 L1016.8,493.0 L1014.1,494.9 L1011.3,496.8 L1008.6,498.7 L1005.8,500.5 L1003.0,502.3 L1000.1,504.1 L997.3,505.8 L994.4,507.5 L991.6,509.1 L988.6,510.8 L985.7,512.4 L982.7,513.9 L979.8,515.4 L976.8,516.9 L973.7,518.3 L970.7,519.7 L967.6,521.1 L964.5,522.4 L961.4,523.7 L958.3,524.9 L955.2,526.1 L952.0,527.3 L948.8,528.4 L945.7,529.5 L942.4,530.5 L939.2,531.5 L936.0,532.4 L932.8,533.3 L929.5,534.2 L926.2,535.0 L923.0,535.7 L919.7,536.4 L916.4,537.1 L913.1,537.7 L909.7,538.3 L906.4,538.8 L903.1,539.3 L899.8,539.8 L896.4,540.1 L893.1,540.5 L889.7,540.8 L886.4,541.0 L883.1,541.2 L879.7,541.3 L876.4,541.4 L873.0,541.4 L869.6,541.4 L866.3,541.3 L863.0,541.2 L859.6,541.0 L856.3,540.8 L852.9,540.5 L849.6,540.2 L846.3,539.8 L843.0,539.3 L839.7,538.8 L836.4,538.2 L833.1,537.6 L829.8,537.0 L826.5,536.3 L823.2,535.6 L819.9,534.8 L816.6,534.1 L813.3,533.3 L810.1,532.5 L806.8,531.7 L803.5,530.9 L800.2,530.1 L796.9,529.4 L793.7,528.6 L790.4,527.8 L787.1,527.1 L783.8,526.4 L780.4,525.8 L777.1,525.2 L773.8,524.6 L770.5,524.1 L767.1,523.6 L763.8,523.2 L760.4,522.9 L757.0,522.6 L753.6,522.4 L750.2,522.3 L746.8,522.2 L743.4,522.2 L740.0,522.3 L736.6,522.4 L733.2,522.6 L729.8,522.8 L726.4,523.1 L723.0,523.5 L719.7,523.9 L716.3,524.4 L713.0,524.9 L709.6,525.5 L706.3,526.2 L703.0,526.9 L699.7,527.7 L696.5,528.5 L693.2,529.4 L690.0,530.3 L686.8,531.3 L683.7,532.3 L680.5,533.4 L677.4,534.5 L674.2,535.7 L671.1,536.9 L668.0,538.2 L665.0,539.5 L661.9,540.8 L658.8,542.2 L655.8,543.6 L652.8,545.0 L649.8,546.5 L646.8,547.9 L643.8,549.4 L640.8,551.0 L637.8,552.5 L634.8,554.1 L631.9,555.7 L628.9,557.3 L625.9,558.9 L623.0,560.5 L620.1,562.2 L617.1,563.8 L614.2,565.5 L611.2,567.1 L608.3,568.8 L605.4,570.4 L602.4,572.1 L599.5,573.8 L596.5,575.4 L593.6,577.1 L590.6,578.7 L587.7,580.3 L584.7,581.9 L581.8,583.5 L578.8,585.1 L575.8,586.7 L572.8,588.2 L569.8,589.7 L566.8,591.2 L563.8,592.7 L560.8,594.1 L557.8,595.6 L554.7,597.0 L551.7,598.3 L548.6,599.6 L545.5,600.9 L542.4,602.2 L539.3,603.5 L536.2,604.7 L533.1,605.9 L529.9,607.0 L526.8,608.2 L523.6,609.3 L520.5,610.4 L517.3,611.4 L514.1,612.5 L510.9,613.5 L507.7,614.5 L504.5,615.5 L501.3,616.4 L498.1,617.4 L494.9,618.3 L491.6,619.2 L488.4,620.1 L485.1,620.9 L481.9,621.8 L478.6,622.6 L475.3,623.4 L472.1,624.2 L468.8,625.0 L465.5,625.7 L462.2,626.4 L458.9,627.2 L455.6,627.9 L452.3,628.6 L449.0,629.3 L445.7,629.9 L442.4,630.6 L439.0,631.2 L435.7,631.9 L432.4,632.5 L429.1,633.1 L425.7,633.7 L422.4,634.3 L419.1,634.9 L415.7,635.5 L412.4,636.1 L409.0,636.6 L405.7,637.2 L402.3,637.8 L399.0,638.3 L395.7,638.9 L392.3,639.4 L389.0,640.0 L385.7,640.6 L382.3,641.1 L379.0,641.7 L375.7,642.3 L372.3,642.9 L369.0,643.5 L365.7,644.1 L362.4,644.8 L359.1,645.4 L355.8,646.1 L352.5,646.8 L349.3,647.5 L346.0,648.3 L342.7,649.0 L339.5,649.8 L336.3,650.6 L333.0,651.5 L329.8,652.3 L326.6,653.2 L323.4,654.1 L320.2,655.1 L317.1,656.1 L313.9,657.1 L310.8,658.2 L307.6,659.3 L304.5,660.5 L301.4,661.7 L298.3,662.9 L295.3,664.2 L292.2,665.5 L289.2,666.9 L286.2,668.4 L283.2,669.8 L280.2,671.4 L277.3,673.0 L274.3,674.6 L271.4,676.3 L268.5,678.0 L265.6,679.8 L262.7,681.6 L259.9,683.4 L257.0,685.3 L254.2,687.2 L251.3,689.0 L248.5,690.9 L245.6,692.8 L242.8,694.6 L239.9,696.4 L237.0,698.2 L234.2,700.0 L231.3,701.7 L228.4,703.4 L225.4,705.1 L222.5,706.7 L219.6,708.3 L216.6,709.9 L213.7,711.4 L210.8,713.0 L207.8,714.6 L204.9,716.2 L202.0,717.9 L199.2,719.6 L196.3,721.3 L193.5,723.1 L190.7,725.0 L187.9,726.9 L185.1,728.8 L182.3,730.7 L179.5,732.7 L176.8,734.6 L174.0,736.5 L171.2,738.4 L168.4,740.3 L165.5,742.1 L162.7,743.9 L159.8,745.7 L156.9,747.3 L154.0,748.9" stroke="#00f" stroke-width="8"/>
</g>
<g font-size="48">
<text x="108.3" y="46.2" font-size="49.5">6</text>
<text x="108.5" y="187.0" font-size="49.5">4</text>
<text x="108.4" y="327.9" font-size="49.5">2</text>
<text x="108.4" y="468.7" font-size="49.5">0</text>
<text x="93.7 108.4" y="609.5" font-size="49.5">-2</text>
<text x="93.7 108.5" y="750.4" font-size="49.5">-4</text>
<text x="93.7 108.3" y="891.2" font-size="49.5">-6</text>
<text x="111.8 128.8 151.8 165.0" y="931.5">-1.0</text>
<text x="489.2 507.7 532.2 542.6" y="931.5">-0.5</text>
<text x="878.7 900.6 913.3" y="931.5">0.0</text>
<text x="1255.7 1280.6 1292.9" y="931.5">0.5</text>
</g>
<g>
<line x1="188" y1="126" x2="298" y2="126" stroke="#000" stroke-width="3.6"/>
<line x1="187" y1="195.5" x2="300" y2="195.5" stroke="#f00" stroke-width="8"/>
<line x1="187" y1="265" x2="300" y2="265" stroke="#00f" stroke-width="8"/>
</g>
<g font-size="48">
<text x="309.1 322.9 345.4 365.2 386.0 411.0" y="141.5">1 scan</text>
<text x="307.6 330.9 355.9 379.9 391.7 415.8 434.8 456.4 479.0" y="210.3">2500 scan</text>
<text x="307.7 331.8 355.9 379.9 391.7 415.8 434.8 456.4 479.8" y="279.2">5000 scan</text>
</g>
<text y="976" font-size="51"><tspan x="578.4 617.2 642.4 657.8 673.9 700.5 726.1">Voltage</tspan><tspan x="760.6" font-weight="normal">(</tspan><tspan x="778.9">V</tspan><tspan x="814.3" font-weight="normal">)</tspan></text>
<text transform="translate(61,768) rotate(-90)" font-size="51">Current Density</text>
<text transform="translate(61,377) rotate(-90)" font-size="51">mA cm</text>
<text transform="translate(34,218) rotate(-90)" font-size="32" style="stroke-width:0.4px">-2</text>
<g fill="none" stroke="#000" stroke-width="3.4" stroke-linecap="round">
<path d="M14.5,380.5 Q44.5,403 75,380.5"/>
<path d="M14.5,186.5 Q44.5,164 75,186.5"/>
</g>
</svg>
</body></html>
